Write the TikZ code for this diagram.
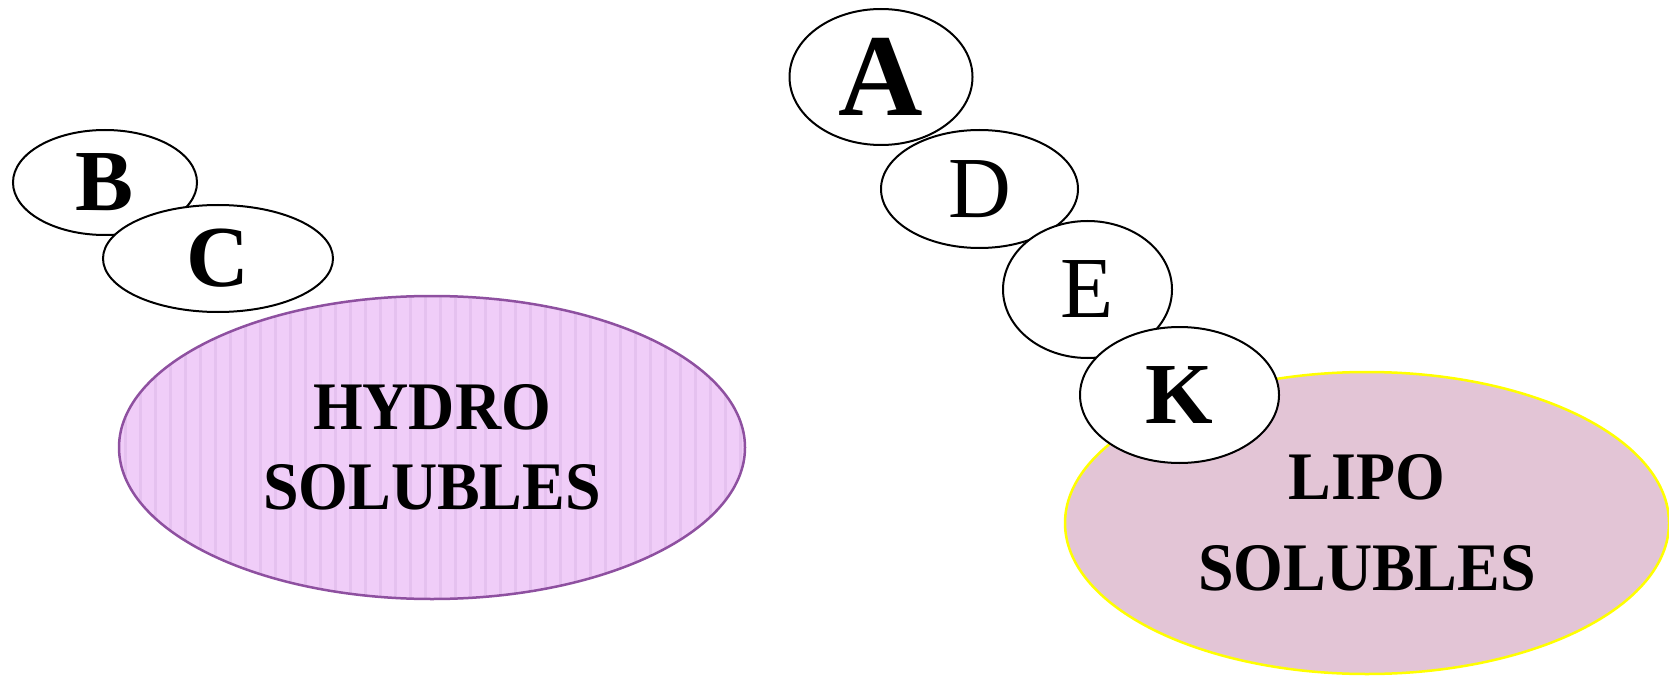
\documentclass[tikz,border=0pt]{standalone}
\usepackage{fontspec}
\setmainfont{Liberation Serif}
\newfontfamily\groupfont{Liberation Serif}[FakeStretch=0.94]
\usetikzlibrary{shapes.geometric}
\definecolor{hydrofill}{RGB}{240,205,248}
\definecolor{hydrostripe}{RGB}{229,193,239}
\definecolor{hydroedge}{RGB}{142,80,160}
\definecolor{lipofill}{RGB}{227,197,214}
\definecolor{lipoedge}{RGB}{255,255,0}
\tikzset{
  vitamin/.style={ellipse, draw=black, line width=2pt, fill=white, inner sep=0pt},
  boldletter/.style={font=\bfseries\fontsize{87}{87}\selectfont},
  plainletter/.style={font=\fontsize{87}{87}\selectfont},
  group/.style={ellipse, inner sep=0pt, align=center, line width=2.5pt},
  striped/.style={path picture={
    \foreach \i in {0,...,43}
      \draw[hydrostripe, line width=3pt]
        ([xshift=\i*15pt+6pt]path picture bounding box.north west) --
        ([xshift=\i*15pt+6pt]path picture bounding box.south west);
  }}
}
\begin{document}
\begin{tikzpicture}[x=1pt, y=-1pt]
\useasboundingbox (0,0) rectangle (1669,676);

% water-soluble group
\node[group, striped, draw=hydroedge, fill=hydrofill,
      minimum width=626pt, minimum height=303pt,
      font=\groupfont\bfseries\fontsize{68}{80}\selectfont]
  (hydro) at (432,447.5) {HYDRO\\SOLUBLES};
\node[vitamin, boldletter, minimum width=184pt, minimum height=105pt] (B) at (105,182.5) {B};
\node[vitamin, boldletter, minimum width=230pt, minimum height=107pt] (C) at (218,258.5) {C};

% fat-soluble group
\node[group, draw=lipoedge, fill=lipofill,
      minimum width=604pt, minimum height=302pt,
      font=\groupfont\bfseries\fontsize{68}{91}\selectfont]
  (lipo) at (1367,523) {LIPO\\SOLUBLES};
\node[vitamin, font=\bfseries\fontsize{117}{117}\selectfont,
      minimum width=183pt, minimum height=136pt] (A) at (881,77) {A};
\node[vitamin, plainletter, minimum width=197pt, minimum height=118pt] (D) at (979.5,189) {D};
\node[vitamin, plainletter, minimum width=169pt, minimum height=137pt] (E) at (1087.5,289.5) {E};
\node[vitamin, boldletter, minimum width=199pt, minimum height=136pt] (K) at (1179.5,395) {K};
\end{tikzpicture}
\end{document}
